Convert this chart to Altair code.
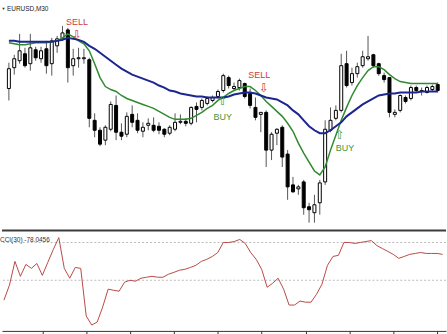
import altair as alt
import pandas as pd

# ---------------- data ----------------
bars = list(range(81))

open_ = [1.3142, 1.3163, 1.3170, 1.3177, 1.3167, 1.3181, 1.3172, 1.3182, 1.3167, 1.3185,
         1.3192, 1.3201, 1.3165, 1.3172, 1.3172, 1.3171, 1.3110, 1.3100, 1.3090, 1.3101,
         1.3125, 1.3098, 1.3096, 1.3116, 1.3110, 1.3099, 1.3105, 1.3105, 1.3104, 1.3101,
         1.3097, 1.3101, 1.3108, 1.3109, 1.3107, 1.3124, 1.3123, 1.3127, 1.3130, 1.3134,
         1.3140, 1.3153, 1.3142, 1.3143, 1.3147, 1.3137, 1.3123, 1.3116, 1.3118, 1.3080,
         1.3097, 1.3103, 1.3076, 1.3045, 1.3041, 1.3048, 1.3023, 1.3017, 1.3027, 1.3048,
         1.3100, 1.3112, 1.3120, 1.3167, 1.3148, 1.3157, 1.3165, 1.3172, 1.3176, 1.3167,
         1.3155, 1.3153, 1.3116, 1.3120, 1.3133, 1.3132, 1.3143, 1.3139, 1.3138, 1.3141,
         1.3146]

high = [1.3168, 1.3176, 1.3197, 1.3183, 1.3197, 1.3184, 1.3184, 1.3190, 1.3193, 1.3195,
        1.3205, 1.3203, 1.3182, 1.3183, 1.3182, 1.3173, 1.3117, 1.3103, 1.3105, 1.3129,
        1.3135, 1.3107, 1.3118, 1.3125, 1.3117, 1.3108, 1.3112, 1.3113, 1.3108, 1.3102,
        1.3105, 1.3117, 1.3116, 1.3112, 1.3124, 1.3128, 1.3132, 1.3134, 1.3135, 1.3141,
        1.3157, 1.3155, 1.3148, 1.3152, 1.3148, 1.3142, 1.3133, 1.3118, 1.3120, 1.3098,
        1.3102, 1.3105, 1.3080, 1.3053, 1.3045, 1.3050, 1.3027, 1.3035, 1.3050, 1.3110,
        1.3123, 1.3125, 1.3177, 1.3180, 1.3163, 1.3168, 1.3180, 1.3195, 1.3177, 1.3168,
        1.3158, 1.3153, 1.3121, 1.3136, 1.3135, 1.3145, 1.3145, 1.3143, 1.3145, 1.3146,
        1.3148]

low = [1.3130, 1.3156, 1.3167, 1.3163, 1.3160, 1.3170, 1.3168, 1.3157, 1.3155, 1.3178,
       1.3190, 1.3148, 1.3155, 1.3163, 1.3167, 1.3103, 1.3093, 1.3084, 1.3085, 1.3099,
       1.3090, 1.3090, 1.3093, 1.3103, 1.3097, 1.3093, 1.3100, 1.3098, 1.3096, 1.3093,
       1.3095, 1.3099, 1.3106, 1.3104, 1.3105, 1.3108, 1.3120, 1.3125, 1.3128, 1.3132,
       1.3138, 1.3142, 1.3140, 1.3140, 1.3132, 1.3122, 1.3110, 1.3098, 1.3063, 1.3070,
       1.3085, 1.3063, 1.3030, 1.3037, 1.3035, 1.3015, 1.3007, 1.3007, 1.3015, 1.3045,
       1.3098, 1.3110, 1.3118, 1.3143, 1.3145, 1.3153, 1.3163, 1.3170, 1.3163, 1.3155,
       1.3148, 1.3113, 1.3113, 1.3118, 1.3127, 1.3130, 1.3138, 1.3135, 1.3137, 1.3139,
       1.3138]

close = [1.3162, 1.3172, 1.3180, 1.3165, 1.3183, 1.3173, 1.3180, 1.3165, 1.3190, 1.3192,
         1.3198, 1.3163, 1.3172, 1.3173, 1.3173, 1.3112, 1.3100, 1.3086, 1.3103, 1.3126,
         1.3098, 1.3094, 1.3114, 1.3108, 1.3100, 1.3103, 1.3107, 1.3100, 1.3100, 1.3096,
         1.3103, 1.3108, 1.3109, 1.3107, 1.3123, 1.3121, 1.3130, 1.3132, 1.3133, 1.3139,
         1.3155, 1.3145, 1.3144, 1.3150, 1.3134, 1.3125, 1.3113, 1.3118, 1.3080, 1.3096,
         1.3101, 1.3073, 1.3043, 1.3038, 1.3043, 1.3022, 1.3020, 1.3025, 1.3047, 1.3101,
         1.3110, 1.3120, 1.3165, 1.3145, 1.3157, 1.3164, 1.3174, 1.3174, 1.3165, 1.3157,
         1.3151, 1.3118, 1.3118, 1.3135, 1.3129, 1.3143, 1.3140, 1.3140, 1.3143, 1.3144,
         1.3140]

ma_fast = [1.3188, 1.3187, 1.3186, 1.3186, 1.3187, 1.3188, 1.3188, 1.3188, 1.3189, 1.3190,
           1.3193, 1.3197, 1.3194, 1.3190, 1.3187, 1.3180, 1.3167, 1.3153, 1.3144, 1.3141,
           1.3139, 1.3135, 1.3132, 1.3130, 1.3128, 1.3126, 1.3124, 1.3122, 1.3119, 1.3116,
           1.3113, 1.3111, 1.3111, 1.3111, 1.3112, 1.3115, 1.3118, 1.3122, 1.3125, 1.3130,
           1.3133, 1.3137, 1.3140, 1.3142, 1.3144, 1.3144, 1.3140, 1.3135, 1.3129, 1.3124,
           1.3119, 1.3114, 1.3107, 1.3099, 1.3087, 1.3077, 1.3068, 1.3059, 1.3055, 1.3063,
           1.3080, 1.3095, 1.3110, 1.3123, 1.3135, 1.3145, 1.3153, 1.3160, 1.3164, 1.3164,
           1.3161, 1.3156, 1.3152, 1.3149, 1.3148, 1.3147, 1.3147, 1.3147, 1.3147, 1.3147,
           1.3147]

ma_slow = [1.3190, 1.3190, 1.3189, 1.3189, 1.3189, 1.3189, 1.3189, 1.3189, 1.3189, 1.3190,
           1.3191, 1.3193, 1.3192, 1.3191, 1.3189, 1.3185, 1.3182, 1.3178, 1.3174, 1.3170,
           1.3166, 1.3162, 1.3159, 1.3156, 1.3154, 1.3152, 1.3150, 1.3148, 1.3145, 1.3143,
           1.3140, 1.3139, 1.3137, 1.3136, 1.3135, 1.3134, 1.3134, 1.3133, 1.3133, 1.3133,
           1.3133, 1.3134, 1.3136, 1.3137, 1.3138, 1.3138, 1.3137, 1.3135, 1.3133, 1.3132,
           1.3131, 1.3128, 1.3125, 1.3120, 1.3116, 1.3110, 1.3104, 1.3100, 1.3097, 1.3097,
           1.3100, 1.3104, 1.3108, 1.3114, 1.3118, 1.3122, 1.3126, 1.3129, 1.3132, 1.3135,
           1.3136, 1.3137, 1.3137, 1.3138, 1.3138, 1.3138, 1.3138, 1.3139, 1.3139, 1.3139,
           1.3139]

cci = [-205, -126, 0, -79, -16, -37, -11, -74, -5, 63,
       126, -37, -89, -32, -37, -289, -337, -321, -242, -147,
       -153, -158, -110, -100, -105, -89, -84, -79, -84, -84,
       -68, -58, -47, -42, -32, -21, 0, 11, 26, 47,
       100, 100, 105, 116, 95, 47, 11, -42, -137, -116,
       -89, -147, -231, -231, -210, -216, -216, -174, -121, -21,
       26, 32, 100, 100, 95, 100, 105, 110, 84, 68,
       53, 37, 16, 26, 37, 42, 47, 42, 42, 42, 37]

cci_levels = [100, -100]
tick_bars = [7, 15, 23, 31, 39, 47, 55, 63, 71, 79]

sig_kind = ["SELL", "BUY", "SELL", "BUY"]
sig_bar = [12.7, 39.9, 47.6, 61.7]
sig_price = [1.3196, 1.3129, 1.3143, 1.3095]
label_bar = [12.7, 39.9, 46.7, 62.7]
label_price = [1.3209, 1.3113, 1.3156, 1.3082]

symbol_title = "EURUSD,M30"
cci_title = "CCI(30) -78.0456"

# ---------------- chart ----------------
df = pd.DataFrame({"bar": bars, "open": open_, "high": high, "low": low,
                   "close": close, "ma_fast": ma_fast, "ma_slow": ma_slow, "cci": cci})
sig = pd.DataFrame({"kind": sig_kind, "bar": sig_bar, "price": sig_price,
                    "lbar": label_bar, "lprice": label_price})
sig["arrow"] = sig["kind"].map({"SELL": "⇩", "BUY": "⇧"})

xs = alt.Scale(domain=[-0.36, 80.62], nice=False, zero=False)
ys = alt.Scale(domain=[1.3000, 1.3230], nice=False, zero=False)
cs = alt.Scale(domain=[-368, 163], nice=False, zero=False)
color_scale = alt.Scale(domain=["SELL", "BUY"], range=["#cc3b3b", "#3a963a"])

base = alt.Chart(df)
X = alt.X("bar:Q", scale=xs, axis=None)

wicks = base.mark_rule(color="#555555", strokeWidth=1).encode(
    x=X, y=alt.Y("low:Q", scale=ys, axis=None), y2="high:Q")
bodies = base.mark_bar(size=3, stroke="black", strokeWidth=1).encode(
    x=X, y=alt.Y("open:Q", scale=ys, axis=None), y2="close:Q",
    fill=alt.condition("datum.close >= datum.open", alt.value("white"), alt.value("black")))
fast = base.mark_line(color="#2f8a2f", strokeWidth=1.5).encode(
    x=X, y=alt.Y("ma_fast:Q", scale=ys, axis=None))
slow = base.mark_line(color="#1c2590", strokeWidth=2).encode(
    x=X, y=alt.Y("ma_slow:Q", scale=ys, axis=None))

sbase = alt.Chart(sig)
arrows = sbase.mark_text(fontSize=12, font="DejaVu Sans", baseline="middle").encode(
    x=alt.X("bar:Q", scale=xs, axis=None), y=alt.Y("price:Q", scale=ys, axis=None),
    text="arrow:N", color=alt.Color("kind:N", scale=color_scale, legend=None))
labels = sbase.mark_text(fontSize=9, font="Liberation Sans", baseline="middle").encode(
    x=alt.X("lbar:Q", scale=xs, axis=None), y=alt.Y("lprice:Q", scale=ys, axis=None),
    text="kind:N", color=alt.Color("kind:N", scale=color_scale, legend=None))

one = pd.DataFrame({"t": [symbol_title]})
title = alt.Chart(one).mark_text(align="left", baseline="middle", fontSize=6.5,
                                 font="Liberation Sans", color="#222222").encode(
    x=alt.value(5), y=alt.value(8), text="t:N")
tri = alt.Chart(one).mark_text(text="▼", fontSize=4, color="#222222").encode(
    x=alt.value(1.5), y=alt.value(8))

main = alt.layer(wicks, bodies, fast, slow, arrows, labels, title, tri).properties(
    width=447, height=230)

lv = alt.Chart(pd.DataFrame({"lvl": cci_levels})).mark_rule(
    color="#bbbbbb", strokeDash=[2, 2], strokeWidth=1).encode(
    y=alt.Y("lvl:Q", scale=cs, axis=None))
cci_line = base.mark_line(color="#b84a45", strokeWidth=1).encode(
    x=alt.X("bar:Q", scale=xs,
            axis=alt.Axis(values=tick_bars, labels=False, title=None, ticks=True,
                          tickSize=3, tickColor="#333333", domainColor="#333333",
                          grid=False, domainWidth=1, tickWidth=1)),
    y=alt.Y("cci:Q", scale=cs, axis=None))
sep = alt.Chart(one).mark_rule(color="#3c3c3c", strokeWidth=2).encode(
    x=alt.value(0), x2=alt.value(447), y=alt.value(0))
ctitle = alt.Chart(pd.DataFrame({"t": [cci_title]})).mark_text(
    align="left", baseline="middle", fontSize=6.5, font="Liberation Sans",
    color="#333333").encode(x=alt.value(-2), y=alt.value(9), text="t:N")

sub = alt.layer(lv, cci_line, sep, ctitle).properties(width=447, height=101)

chart = alt.vconcat(main, sub, spacing=0).properties(padding=0).configure_view(stroke=None)
chart.save("out.html", embed_options={"renderer": "svg", "actions": False})
